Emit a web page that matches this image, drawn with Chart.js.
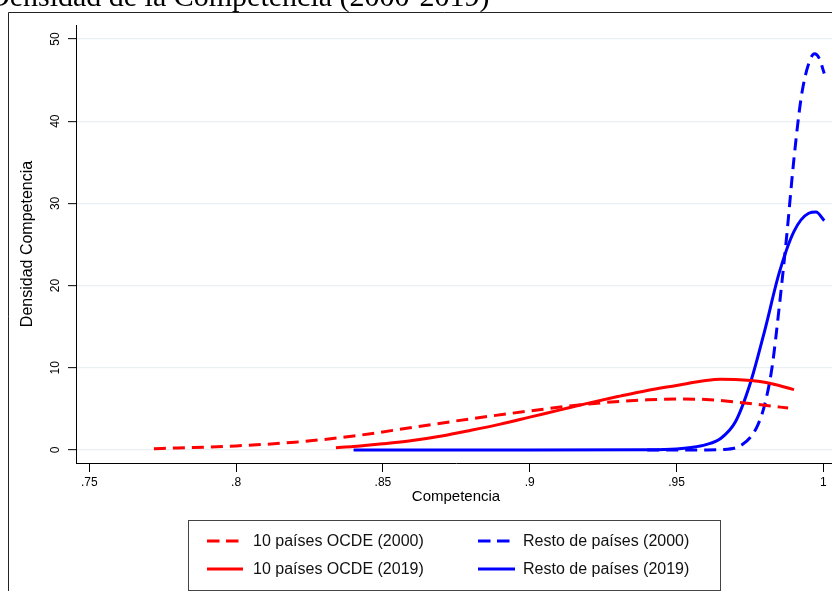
<!DOCTYPE html>
<html>
<head>
<meta charset="utf-8">
<script src="https://cdn.jsdelivr.net/npm/chart.js@4.4.1/dist/chart.umd.min.js"></script>
<style>
  html, body { margin: 0; padding: 0; overflow: hidden; background: #ffffff; width: 832px; height: 591px; }
  canvas { display: block; }
</style>
</head>
<body>
<canvas id="c" width="880" height="620" style="width:880px;height:620px"></canvas>
<script>
// Texts
const chartTitle = 'Densidad de la Competencia (2000-2019)';
const xAxisTitle = 'Competencia';
const yAxisTitle = 'Densidad Competencia';

// Tick values and labels
const xTickValues = [0.75, 0.8, 0.85, 0.9, 0.95, 1];
const xTickLabels = ['.75', '.8', '.85', '.9', '.95', '1'];
const yTickValues = [0, 10, 20, 30, 40, 50];
const yTickLabels = ['0', '10', '20', '30', '40', '50'];

// Series names
const seriesLabels = [
  '10 países OCDE (2000)',
  '10 países OCDE (2019)',
  'Resto de países (2000)',
  'Resto de países (2019)'
];

// Kernel density estimates: competencia (x) and densidad (y)
const ocde2000X = [0.772, 0.78, 0.80, 0.82, 0.84, 0.86, 0.88, 0.90, 0.92, 0.94, 0.95, 0.96, 0.97, 0.98, 0.988];
const ocde2000Y = [0.16, 0.25, 0.50, 0.95, 1.70, 2.75, 3.80, 4.75, 5.60, 6.10, 6.20, 6.15, 5.85, 5.45, 5.10];

const ocde2019X = [0.834, 0.84, 0.85, 0.86, 0.87, 0.88, 0.89, 0.90, 0.91, 0.92, 0.93, 0.94, 0.95, 0.96, 0.965, 0.97, 0.98, 0.99];
const ocde2019Y = [0.28, 0.42, 0.75, 1.15, 1.70, 2.40, 3.15, 4.00, 4.85, 5.70, 6.50, 7.25, 7.85, 8.45, 8.60, 8.58, 8.25, 7.35];

const resto2000X = [0.94, 0.96, 0.965, 0.97, 0.9725, 0.975, 0.9775, 0.98, 0.9825, 0.985, 0.9875, 0.99, 0.9925, 0.995, 0.997, 0.9985, 1.0003];
const resto2000Y = [0.00, 0.01, 0.05, 0.25, 0.70, 1.50, 2.90, 5.50, 10.0, 17.5, 26.0, 35.5, 43.0, 47.0, 48.2, 47.7, 45.8];

const resto2019X = [0.84, 0.90, 0.94, 0.95, 0.955, 0.96, 0.965, 0.97, 0.975, 0.98, 0.985, 0.99, 0.995, 0.9975, 1.0003];
const resto2019Y = [0.00, 0.00, 0.03, 0.12, 0.30, 0.65, 1.40, 3.40, 8.00, 14.5, 21.6, 26.6, 28.8, 28.95, 27.9];

const RED = '#ff0000';
const BLUE = '#0000ff';
const FONT = "'Liberation Sans', Arial, Helvetica, sans-serif";

function toPoints(xs, ys) {
  return xs.map((x, i) => ({ x: x, y: ys[i] }));
}

function series(label, xs, ys, color, dashed) {
  return {
    label: label,
    data: toPoints(xs, ys),
    borderColor: color,
    backgroundColor: color,
    borderWidth: 3,
    borderDash: dashed ? [12, 7] : [],
    pointRadius: 0,
    pointHoverRadius: 0,
    fill: false,
    cubicInterpolationMode: 'monotone'
  };
}

// Frame, cut-off title, rotated y tick labels and boxed legend
const decorations = {
  id: 'decorations',
  afterDraw(chart) {
    const ctx = chart.ctx;
    const yScale = chart.scales.y;

    ctx.save();
    // title (serif, partly above the page edge)
    ctx.fillStyle = '#000000';
    ctx.font = "30px 'Liberation Serif', 'Times New Roman', serif";
    ctx.textAlign = 'left';
    ctx.textBaseline = 'alphabetic';
    ctx.fillText(chartTitle, -12, 6);

    // outer frame
    ctx.strokeStyle = '#222222';
    ctx.lineWidth = 1;
    ctx.beginPath();
    ctx.moveTo(8.5, 700);
    ctx.lineTo(8.5, 12.5);
    ctx.lineTo(900, 12.5);
    ctx.stroke();

    // y tick labels, rotated
    ctx.font = '12px ' + FONT;
    ctx.fillStyle = '#000000';
    ctx.textAlign = 'center';
    ctx.textBaseline = 'middle';
    yTickValues.forEach((v, i) => {
      const py = yScale.getPixelForValue(v);
      ctx.save();
      ctx.translate(56, py);
      ctx.rotate(-Math.PI / 2);
      ctx.fillText(yTickLabels[i], 0, 0);
      ctx.restore();
    });

    // legend box
    const box = { left: 188.5, top: 520.5, right: 720.5, bottom: 590.5 };
    ctx.fillStyle = '#ffffff';
    ctx.fillRect(box.left, box.top, box.right - box.left, box.bottom - box.top);
    ctx.strokeStyle = '#444444';
    ctx.lineWidth = 1;
    ctx.strokeRect(box.left, box.top, box.right - box.left, box.bottom - box.top);

    const cols = [{ x0: 207, x1: 243, tx: 253 }, { x0: 478, x1: 515, tx: 523 }];
    const rows = [541, 569];
    chart.data.datasets.forEach((ds, i) => {
      const col = cols[Math.floor(i / 2)];
      const row = rows[i % 2];
      ctx.strokeStyle = ds.borderColor;
      ctx.lineWidth = 3;
      ctx.setLineDash(ds.borderDash.length ? [12.5, 6.5] : []);
      ctx.beginPath();
      ctx.moveTo(col.x0, row);
      ctx.lineTo(ds.borderDash.length ? col.x0 + 31.5 : col.x1, row);
      ctx.stroke();
      ctx.setLineDash([]);
      ctx.fillStyle = '#111111';
      ctx.font = '16px ' + FONT;
      ctx.textAlign = 'left';
      ctx.textBaseline = 'middle';
      ctx.fillText(ds.label, col.tx, row + 0.5);
    });
    ctx.restore();
  }
};

new Chart(document.getElementById('c'), {
  type: 'line',
  data: {
    datasets: [
      series(seriesLabels[0], ocde2000X, ocde2000Y, RED, true),
      series(seriesLabels[1], ocde2019X, ocde2019Y, RED, false),
      series(seriesLabels[2], resto2000X, resto2000Y, BLUE, true),
      series(seriesLabels[3], resto2019X, resto2019Y, BLUE, false)
    ]
  },
  options: {
    responsive: false,
    devicePixelRatio: 1,
    animation: false,
    layout: { padding: { top: 25, right: 44, bottom: 0, left: 0 } },
    plugins: {
      legend: { display: false },
      title: { display: false },
      tooltip: { enabled: false }
    },
    scales: {
      x: {
        type: 'linear',
        min: 0.74547,
        max: 1.0043,
        afterFit(scale) { scale.height = 157; },
        afterBuildTicks(scale) { scale.ticks = xTickValues.map(v => ({ value: v })); },
        border: { display: true, color: '#000000', width: 1 },
        grid: { drawOnChartArea: false, drawTicks: true, tickLength: 9, tickColor: '#000000', tickWidth: 1 },
        ticks: {
          color: '#000000',
          font: { family: FONT, size: 12 },
          padding: 3,
          maxRotation: 0,
          autoSkip: false,
          callback: (v) => {
            const i = xTickValues.findIndex(t => Math.abs(t - v) < 1e-9);
            return i >= 0 ? xTickLabels[i] : '';
          }
        },
        title: {
          display: true,
          text: xAxisTitle,
          color: '#000000',
          font: { family: FONT, size: 15 },
          padding: { top: 0, bottom: 114 }
        }
      },
      y: {
        type: 'linear',
        min: -1.58,
        max: 51.70,
        afterFit(scale) { scale.width = 76; },
        afterBuildTicks(scale) { scale.ticks = yTickValues.map(v => ({ value: v })); },
        border: { display: true, color: '#000000', width: 1 },
        grid: { color: '#e8f0f1', lineWidth: 1.3, drawTicks: true, tickLength: 8, tickColor: '#000000', tickWidth: 1 },
        ticks: { display: false },
        title: {
          display: true,
          text: yAxisTitle,
          color: '#000000',
          font: { family: FONT, size: 16 },
          padding: { top: 18, bottom: 0 }
        }
      }
    }
  },
  plugins: [decorations]
});
</script>
</body>
</html>
